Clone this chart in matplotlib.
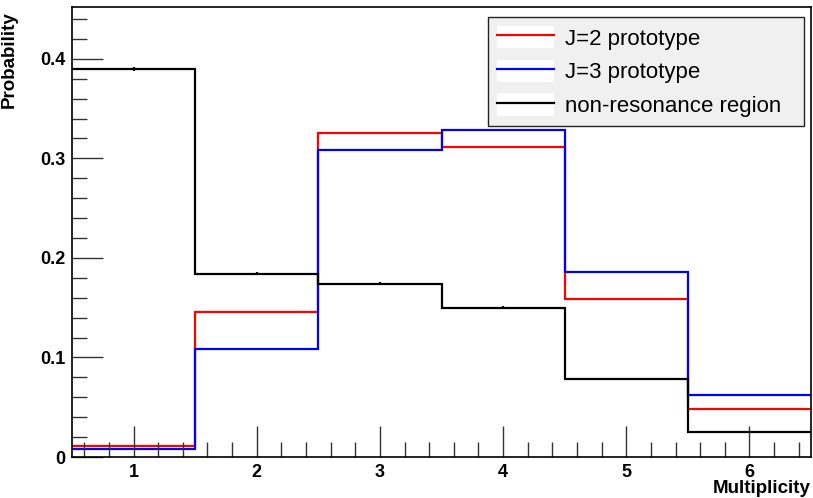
import numpy as np
import matplotlib
matplotlib.use("Agg")
import matplotlib.pyplot as plt
from matplotlib.lines import Line2D
from matplotlib.patches import Patch
from matplotlib.legend_handler import HandlerTuple

plt.rcParams['font.family'] = ['Liberation Sans', 'DejaVu Sans']

# multiplicity bins 1..6, probability per bin
multiplicity = [1, 2, 3, 4, 5, 6]
j2_prob = [0.011, 0.146, 0.325, 0.311, 0.159, 0.048]
j3_prob = [0.008, 0.108, 0.308, 0.328, 0.186, 0.062]
nonres_prob = [0.390, 0.184, 0.174, 0.150, 0.078, 0.025]
nonres_err = [0.002, 0.0015, 0.0015, 0.0015, 0.001, 0.0008]

labels = ["J=2 prototype", "J=3 prototype", "non-resonance region"]
colors = ["#ff0000", "#0000ff", "#000000"]

centers = np.array(multiplicity, dtype=float)
edges = np.append(centers - 0.5, centers[-1] + 0.5)

fig = plt.figure(figsize=(8.13, 4.98), dpi=100)
ax = fig.add_axes([72 / 813, 41 / 498, 739 / 813, 450 / 498])

handles = []
for vals, col in zip([j2_prob, j3_prob, nonres_prob], colors):
    ax.stairs(vals, edges, color=col, lw=1.6, baseline=None)
    handles.append(Line2D([], [], color=col, lw=1.6))

ax.errorbar(centers, nonres_prob, yerr=nonres_err, fmt='none', ecolor='k', elinewidth=1.6)

ax.set_xlim(0.5, 6.5)
ax.set_ylim(0, 0.452)
ax.set_xticks(multiplicity)
ax.set_xticks(np.arange(0.6, 6.5, 0.2), minor=True)
ax.set_yticks([0, 0.1, 0.2, 0.3, 0.4])
ax.set_yticklabels(["0", "0.1", "0.2", "0.3", "0.4"])
ax.set_yticks(np.arange(0.02, 0.452, 0.02), minor=True)
ax.tick_params(which='both', direction='in', color='#333333', width=1)
ax.tick_params(which='major', length=22, labelsize=13, pad=5)
ax.tick_params(which='minor', length=11)
for lab in ax.get_xticklabels() + ax.get_yticklabels():
    lab.set_fontweight('bold')
for sp in ax.spines.values():
    sp.set_linewidth(1.2)

ax.set_xlabel("Multiplicity", fontsize=13.5, fontweight='bold', loc='right')
ax.xaxis.set_label_coords(1.0, -0.05)
ax.set_ylabel("Probability", fontsize=13.5, fontweight='bold', loc='top')
ax.yaxis.set_label_coords(-0.074, 0.99)

white = Patch(facecolor='white', edgecolor='none')
leg = ax.legend([(white, h) for h in handles], labels,
                handler_map={tuple: HandlerTuple(ndivide=1, pad=0)},
                loc='upper left', mode='expand',
                bbox_to_anchor=(488 / 813, 1 - 125 / 498, 316 / 813, 108 / 498),
                bbox_transform=fig.transFigure, fontsize=16,
                handlelength=2.55, handleheight=1.18, labelspacing=0.45,
                handletextpad=0.5, borderpad=0.4, borderaxespad=0,
                fancybox=False, framealpha=1, facecolor='#f0f0f0',
                edgecolor='#222222')
leg.get_frame().set_linewidth(1.0)

fig.savefig("out.png", dpi=100)
